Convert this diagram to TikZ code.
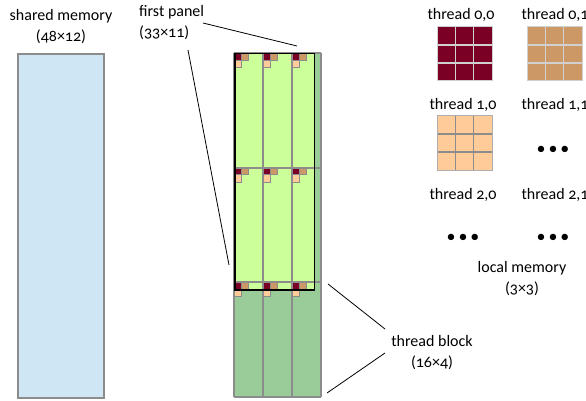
\documentclass[tikz,border=0pt]{standalone}
\usepackage{fontspec}
\setmainfont[Numbers=OldStyle]{Carlito}
\definecolor{smblue}{HTML}{CFE6F4}
\definecolor{lgreen}{HTML}{CCFF99}
\definecolor{dgreen}{HTML}{99CC99}
\definecolor{dred}{HTML}{7B0025}
\definecolor{tan}{HTML}{CC9966}
\definecolor{peach}{HTML}{FFCC99}
\definecolor{gline}{HTML}{8C8C8C}
\definecolor{lline}{HTML}{D0D0D0}
\tikzset{
  lbl/.style={font=\fontsize{16}{21}\selectfont, align=center, inner sep=0pt},
  lbll/.style={font=\fontsize{16}{21}\selectfont, align=left, inner sep=0pt},
  gridline/.style={draw=gline, line width=1.8pt},
  cell/.style={draw=gline, line width=1pt},
  conn/.style={draw=black, line width=0.8pt},
  dots/.style={font=\fontsize{18}{20}\selectfont, inner sep=0pt}
}
\begin{document}
\begin{tikzpicture}[x=1pt,y=-1pt]
\useasboundingbox (0,0) rectangle (586,401);
% shared memory
\node[lbl] (smlabel) at (61,27) {shared memory\\(48×12)};
\node[draw=gline, line width=1.8pt, fill=smblue, minimum width=86pt, minimum height=344pt, inner sep=0pt, anchor=north west] (shm) at (17,53) {};
% column
\def\ux{7.25}
\def\uy{7.1875}
\fill[dgreen] (234,53) rectangle (321,397);
\fill[lgreen] (234,53) rectangle (313.75,289.2);
\foreach \i in {0,1,2}{
  \foreach \j in {0,1,2}{
    \pgfmathsetmacro{\bx}{234+29*\j}
    \pgfmathsetmacro{\by}{53+114.67*\i}
    \draw[cell, fill=dred] (\bx,\by) rectangle ++(\ux,\uy);
    \draw[cell, fill=tan] (\bx+\ux,\by) rectangle ++(\ux,\uy);
    \draw[cell, fill=peach] (\bx,\by+\uy) rectangle ++(\ux,\uy);
  }
}
\foreach \x in {234,263,292,321}{\draw[gridline] (\x,53) -- (\x,397);}
\foreach \y in {53,167.67,282.33,397}{\draw[gridline] (234,\y) -- (321,\y);}
\node[draw=black, line width=1.5pt, minimum width=79.75pt, minimum height=236.2pt, inner sep=0pt, anchor=north west] (panel) at (234,53) {};
% first panel label
\node[lbll, anchor=north west] (fplabel) at (139,5) {first panel\\(33×11)};
\coordinate (fpA) at (203,23);
\coordinate (fpB) at (297,46);
\coordinate (fpC) at (188,50);
\coordinate (fpD) at (229,265);
\draw[conn] (fpA) -- (fpB);
\draw[conn] (fpC) -- (fpD);
% thread block label
\node[lbl] (tblabel) at (432,353) {thread block\\(16×4)};
\coordinate (tbA) at (328,284);
\coordinate (tbB) at (385,329);
\coordinate (tbC) at (385,353);
\coordinate (tbD) at (327,393);
\draw[conn] (tbA) -- (tbB);
\draw[conn] (tbC) -- (tbD);
% local memory
\node[lbl] (t00) at (461,15) {thread 0,0};
\node[lbl] (t01) at (555,15) {thread 0,1};
\node[lbl] (t10) at (463,105) {thread 1,0};
\node[lbl] (t11) at (555,105) {thread 1,1};
\node[lbl] (t20) at (463,195) {thread 2,0};
\node[lbl] (t21) at (555,195) {thread 2,1};
\fill[dred] (437,27) rectangle (492,81);
\foreach \k in {1,2}{
  \draw[lline, line width=1.4pt] (437+18.33*\k,27) -- (437+18.33*\k,81);
  \draw[lline, line width=1.4pt] (437,27+18*\k) -- (492,27+18*\k);
}
\draw[lline, line width=1pt] (437,27) rectangle (492,81);
\fill[tan] (527,27) rectangle (582,81);
\foreach \k in {1,2}{
  \draw[lline, line width=1.4pt] (527+18.33*\k,27) -- (527+18.33*\k,81);
  \draw[lline, line width=1.4pt] (527,27+18*\k) -- (582,27+18*\k);
}
\draw[lline, line width=1pt] (527,27) rectangle (582,81);
\fill[peach] (437,116) rectangle (492,170);
\foreach \k in {1,2}{
  \draw[gline, line width=1.4pt] (437+18.33*\k,116) -- (437+18.33*\k,170);
  \draw[gline, line width=1.4pt] (437,116+18*\k) -- (492,116+18*\k);
}
\draw[gline!70, line width=1pt] (437,116) rectangle (492,170);
\node[dots] (d11) at (553,150) {•\,•\,•};
\node[dots] (d20) at (463,238) {•\,•\,•};
\node[dots] (d21) at (553,238) {•\,•\,•};
\node[lbl] (lmlabel) at (522,279) {local memory\\(3×3)};
\end{tikzpicture}
\end{document}
